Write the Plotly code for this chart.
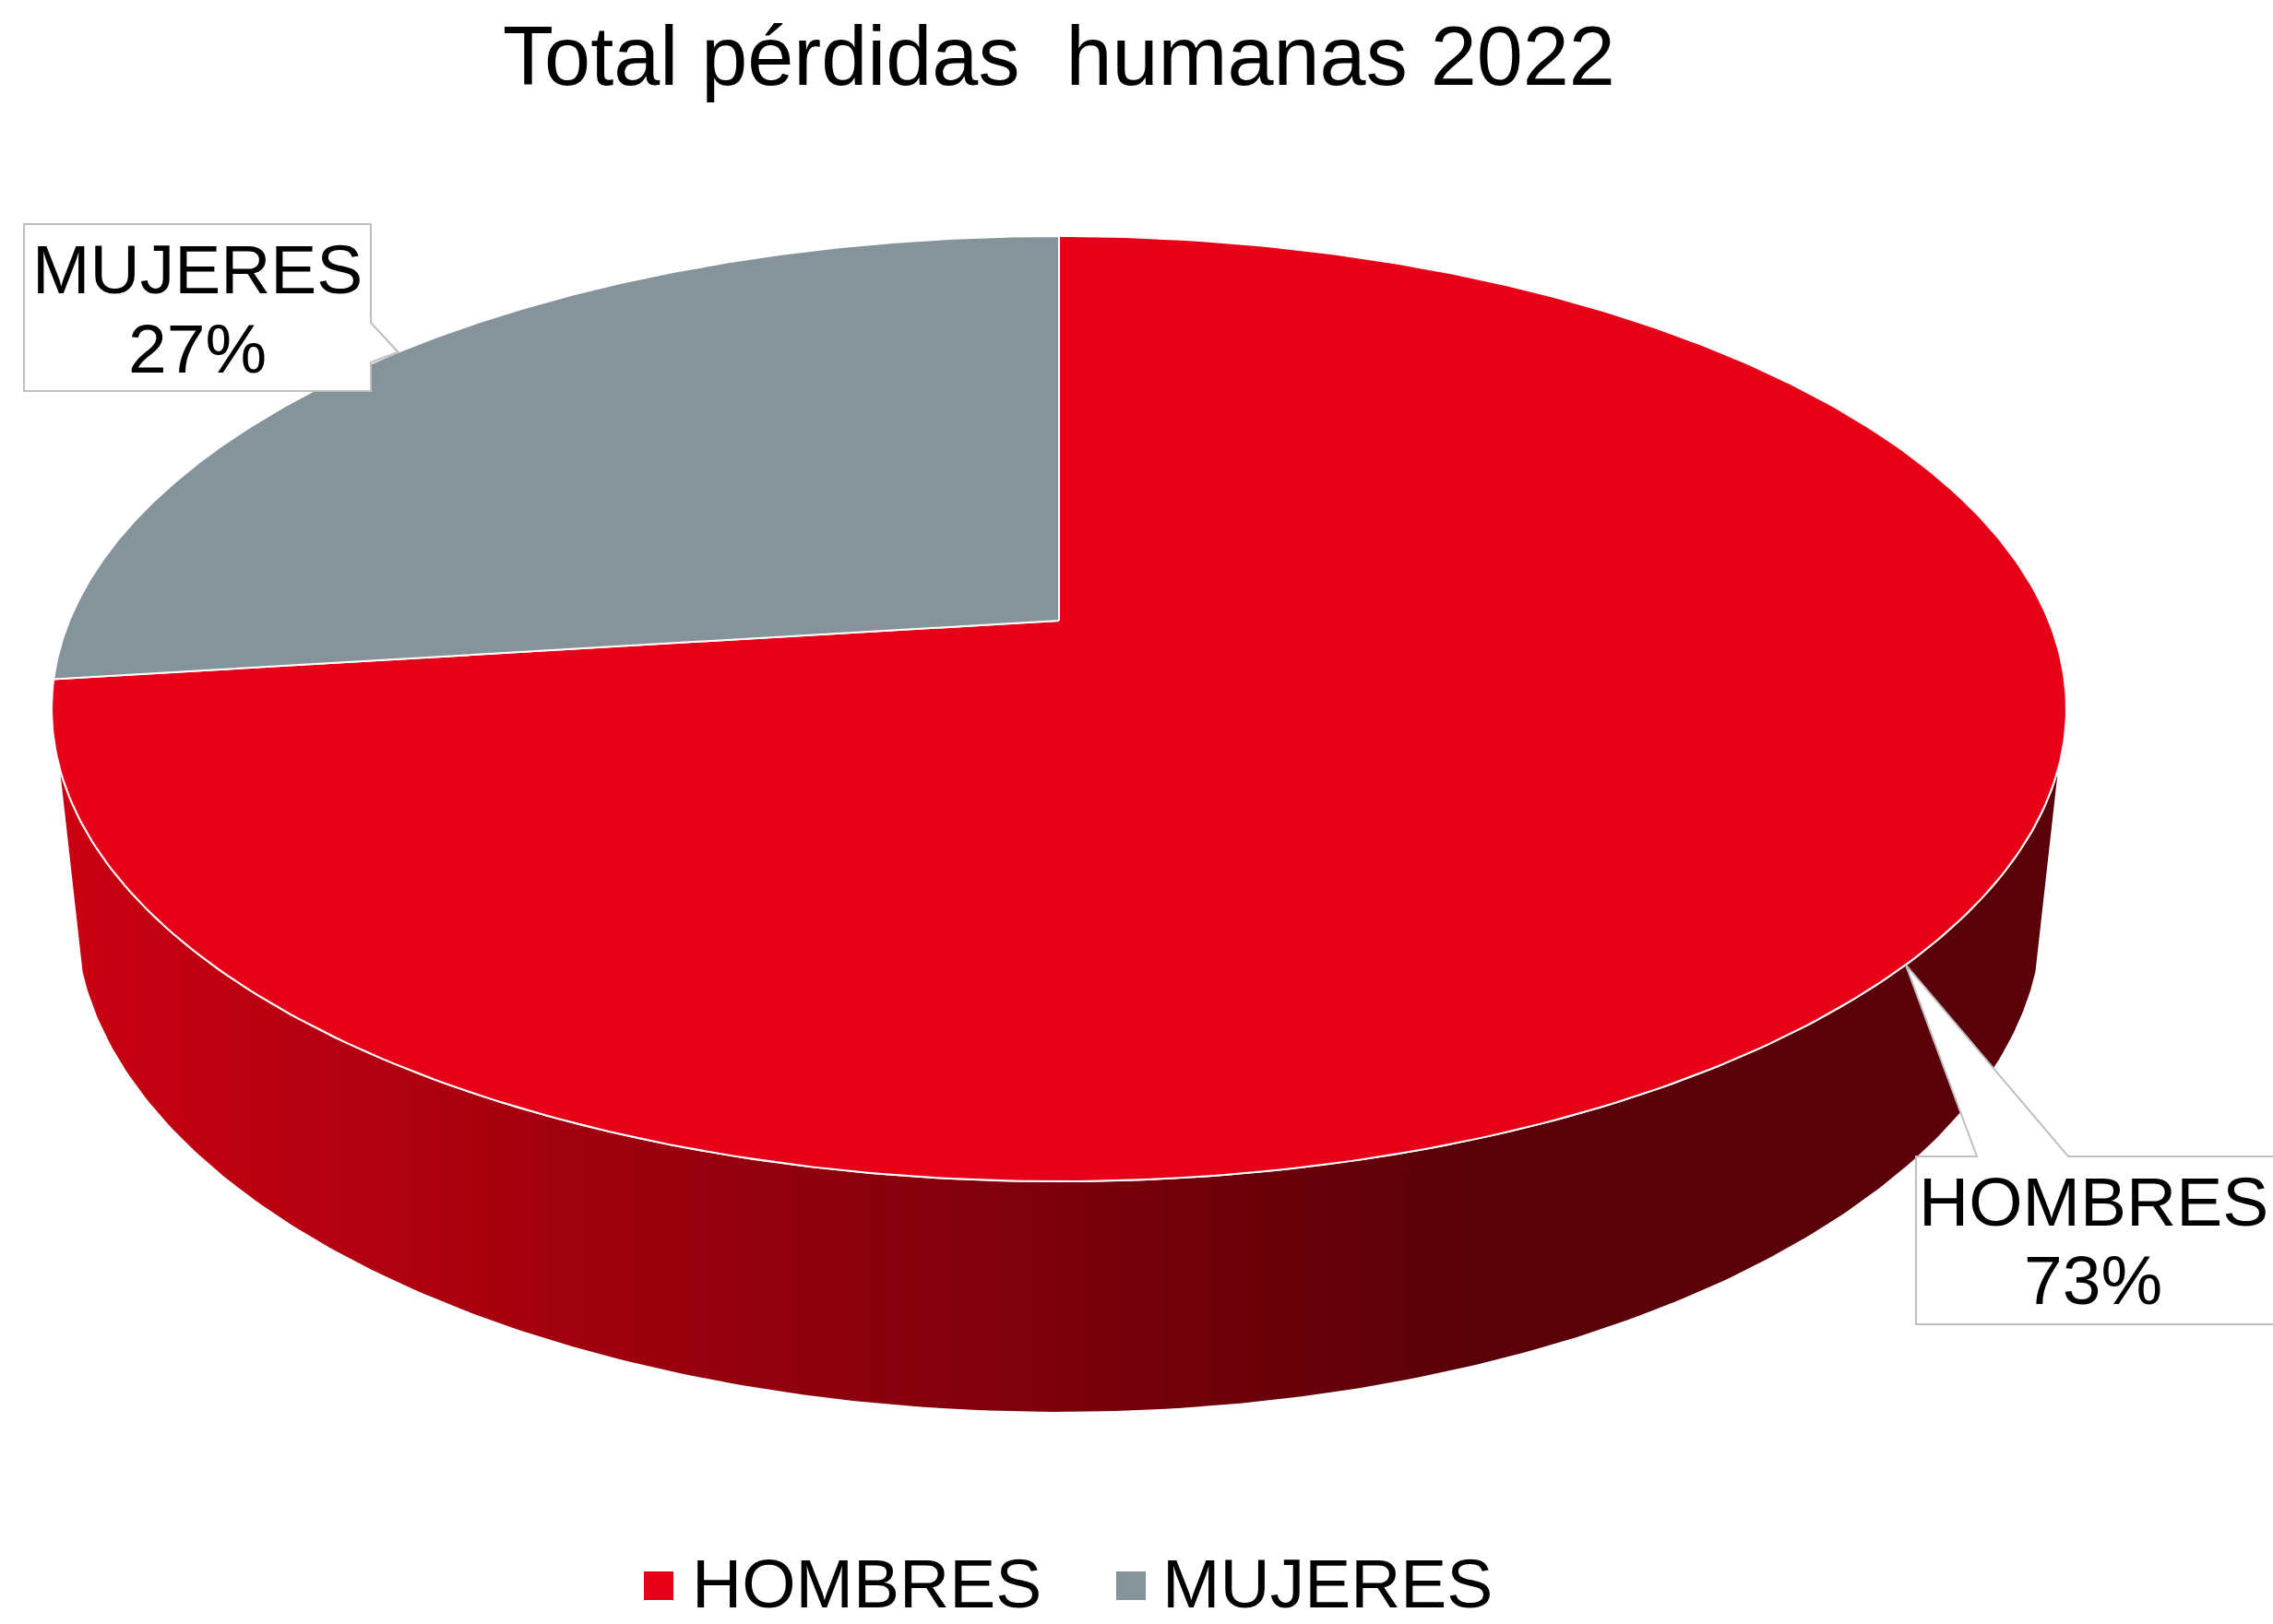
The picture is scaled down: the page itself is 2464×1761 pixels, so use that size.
import numpy as np
import plotly.graph_objects as go

# ---------------- data ----------------
categories = ["HOMBRES", "MUJERES"]
values = [73, 27]
top_colors = ["#E60018", "#85949A"]
side_colors = [["#CA0012", "#5A0008"], ["#6F7D83", "#3F484C"]]
title_text = "Total pérdidas  humanas 2022"

# ---------------- layout constants ----------------
W, H = 2464, 1761
FONT = "Liberation Sans, Arial, sans-serif"

# 3D perspective pie parameters (pixel space)
CX, CY = 1148, 673          # projected pie centre
FOC = 5110.0                # focal length
DIST = 4.763                # camera distance (in radii)
PHI = np.radians(27.46)     # elevation
DEPTH = 0.235               # pie thickness (in radii)
SIDE_SIN = -0.294           # where visible side wall starts/ends

# callout boxes: (x0, y0, x1, y1) and pointer base
callouts = {
    "MUJERES": dict(box=(26, 243, 402, 424), base=("right", 350, 393),
                    text_xy=(214, 292, 378)),
    "HOMBRES": dict(box=(2077, 1254, 2475, 1436), base=("top", 2143, 2242),
                    text_xy=(2269, 1303, 1388)),
}
legend_pos = [(698, 1704, 749), (1210, 1704, 1259)]  # square x, square y, text x
LEG_TEXT_Y = 1717
LEG_SQ = 32


def project(theta, y):
    theta = np.asarray(theta, dtype=float)
    X = np.cos(theta)
    Z = np.sin(theta)
    c, s = np.cos(PHI), np.sin(PHI)
    d = DIST + Z * c - y * s
    return CX + FOC * X / d, CY - FOC * (y * c + Z * s) / d


total = float(sum(values))
fracs = [v / total for v in values]
bounds = []
a0 = np.pi / 2
for fr in fracs:
    a1 = a0 - 2 * np.pi * fr
    bounds.append((a1, a0))
    a0 = a1

vis_lo = -np.pi + np.arcsin(-SIDE_SIN)
vis_hi = -np.arcsin(-SIDE_SIN)

fig = go.Figure()

# side walls (drawn first)
for i, (lo, hi) in enumerate(bounds):
    for k in (-1, 0, 1):
        l2, h2 = lo + 2 * np.pi * k, hi + 2 * np.pi * k
        a, b = max(l2, vis_lo), min(h2, vis_hi)
        if b <= a:
            continue
        th = np.linspace(a, b, 240)
        xt, yt = project(th, 0.0)
        xb, yb = project(th[::-1], -DEPTH)
        xs = np.concatenate([xt, xb, xt[:1]])
        ys = np.concatenate([yt, yb, yt[:1]])
        fig.add_trace(go.Scatter(
            x=xs, y=ys, mode="lines", fill="toself",
            fillgradient=dict(type="horizontal",
                              colorscale=[[0, side_colors[i][0]], [1, side_colors[i][1]]],
                              start=60, stop=1600),
            line=dict(color="white", width=2),
            name=categories[i], showlegend=False, hoverinfo="skip"))

# top faces
for i, (lo, hi) in enumerate(bounds):
    th = np.linspace(hi, lo, 400)
    xa, ya = project(th, 0.0)
    xs = np.concatenate([[CX], xa, [CX]])
    ys = np.concatenate([[CY], ya, [CY]])
    fig.add_trace(go.Scatter(
        x=xs, y=ys, mode="lines", fill="toself", fillcolor=top_colors[i],
        line=dict(color="white", width=2),
        name=categories[i], showlegend=False, hoverinfo="skip"))

shapes = []
annotations = []

# callouts
for i, cat in enumerate(categories):
    lo, hi = bounds[i]
    mid = (lo + hi) / 2
    tx, ty = project(mid, 0.0)
    tx, ty = float(tx), float(ty)
    co = callouts[cat]
    x0, y0, x1, y1 = co["box"]
    side, p, q = co["base"]
    if side == "right":
        path = (f"M{x0},{y0} L{x1},{y0} L{x1},{p} L{tx},{ty} L{x1},{q} "
                f"L{x1},{y1} L{x0},{y1} Z")
    else:
        path = (f"M{x0},{y0} L{p},{y0} L{tx},{ty} L{q},{y0} L{x1},{y0} "
                f"L{x1},{y1} L{x0},{y1} Z")
    shapes.append(dict(type="path", path=path, xref="x", yref="y",
                       fillcolor="white", line=dict(color="#BFBFBF", width=2),
                       layer="above"))
    cxl, cy1, cy2 = co["text_xy"]
    pct = round(values[i] / total * 100)
    annotations.append(dict(x=cxl, y=cy1, xref="x", yref="y", text=cat,
                            showarrow=False, xanchor="center", yanchor="middle",
                            borderpad=0,
                            font=dict(family=FONT, size=75, color="black")))
    annotations.append(dict(x=cxl, y=cy2, xref="x", yref="y", text=f"{pct}%",
                            showarrow=False, xanchor="center", yanchor="middle",
                            borderpad=0,
                            font=dict(family=FONT, size=75, color="black")))

# legend
for i, cat in enumerate(categories):
    sx, sy, txx = legend_pos[i]
    shapes.append(dict(type="rect", xref="x", yref="y", x0=sx, x1=sx + LEG_SQ,
                       y0=sy, y1=sy + LEG_SQ - 1, fillcolor=top_colors[i],
                       line=dict(width=0), layer="above"))
    annotations.append(dict(x=txx, y=LEG_TEXT_Y, xref="x", yref="y", text=cat,
                            showarrow=False, xanchor="left", yanchor="middle",
                            borderpad=0,
                            font=dict(family=FONT, size=75, color="black")))

fig.update_layout(
    width=W, height=H, autosize=False,
    margin=dict(l=0, r=0, t=0, b=0, pad=0),
    paper_bgcolor="white", plot_bgcolor="white",
    xaxis=dict(range=[0, W], visible=False, fixedrange=True),
    yaxis=dict(range=[H, 0], visible=False, fixedrange=True),
    title=dict(text=title_text, x=1148 / W, xanchor="center",
               y=1 - 60 / H, yanchor="middle", yref="container",
               font=dict(family=FONT, size=90, color="black")),
    shapes=shapes, annotations=annotations, showlegend=False,
)

fig.write_html("out.html", config={"displayModeBar": False, "staticPlot": True},
               post_script="document.body.style.margin='0';document.body.style.overflow='hidden';")
